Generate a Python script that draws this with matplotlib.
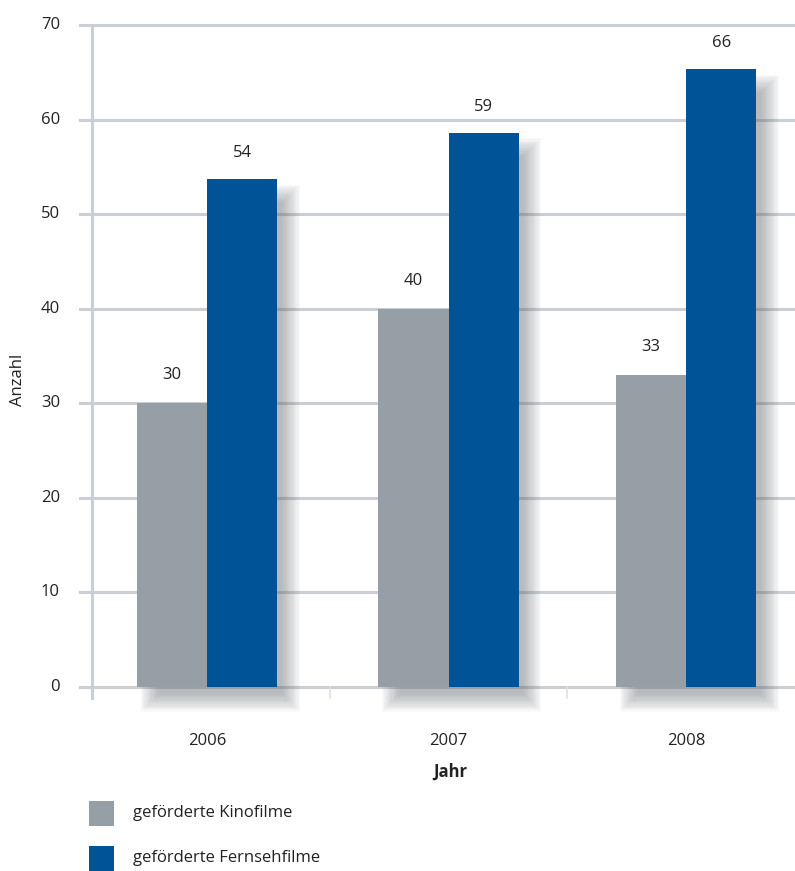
import matplotlib
matplotlib.use("Agg")
import matplotlib.pyplot as plt
from matplotlib.patches import Rectangle, Polygon
from matplotlib.lines import Line2D
import numpy as np

years = ["2006", "2007", "2008"]
kino = [30, 40, 33]
fernseh = [53.7, 58.6, 65.3]
kino_labels = ["30", "40", "33"]
fernseh_labels = ["54", "59", "66"]
series_names = ["geförderte Kinofilme", "geförderte Fernsehfilme"]
yticks = [0, 10, 20, 30, 40, 50, 60, 70]

GRAY = "#969ea6"
BLUE = "#005397"
GRID = "#c9cfd5"
TXT = "#222222"
FONT = ["Open Sans", "DejaVu Sans"]
plt.rcParams["font.family"] = FONT

W, H = 795, 871
fig = plt.figure(figsize=(W / 100, H / 100), dpi=100)
left, right, top, bottom = 92, 795, 25, 687
ax = fig.add_axes([left / W, 1 - bottom / H, (right - left) / W, (bottom - top) / H])
cat_px = 237.7
xmax = -0.5 + (right - left) / cat_px
ax.set_xlim(-0.5, xmax)
ax.set_ylim(0, 70)
for s in ax.spines.values():
    s.set_visible(False)

px_x = 1 / cat_px
px_y = 70 / (bottom - top)

# gridlines
for t in yticks:
    ax.add_line(Line2D([-0.5 - 12 * px_x, xmax], [t, t], color=GRID, lw=2.2, zorder=1, clip_on=False))
# y axis line
ax.add_line(Line2D([-0.5, -0.5], [-11 * px_y, 70], color=GRID, lw=2.2, zorder=1, clip_on=False))
# category separator ticks
for xs in [0.5, 1.5]:
    ax.add_line(Line2D([xs, xs], [-11 * px_y, 0], color="#dde1e5", lw=1.2, zorder=1, clip_on=False))

x = np.arange(len(years))
bw = 0.295
off = 0.1475
shift = np.array([-0.015, 0.0, 0.0])


def group_shadow(x0, xm, x1, h1, h2):
    n = 16
    dx = 13 * px_x
    dy = -15 * px_y
    for k in range(n):
        g = (n / 2 - k) * 1.2
        gx, gy = g * px_x, g * px_y
        a, b, c = x0 + dx - gx, x1 + dx + gx, dy - gy
        t1, t2 = h1 + dy + gy, h2 + dy + gy
        if h2 >= h1:
            m = xm + dx - gx
            pts = [(a, c), (b, c), (b, t2), (m, t2), (m, t1), (a, t1)]
        else:
            m = xm + dx + gx
            pts = [(a, c), (b, c), (b, t2), (m, t2), (m, t1), (a, t1)]
        ax.add_patch(Polygon(pts, closed=True, facecolor="#6a6f76", edgecolor="none",
                             alpha=0.037, zorder=2, clip_on=False))


for i in range(len(years)):
    xc = x[i] + shift[i]
    group_shadow(xc - off - bw / 2, xc, xc + off + bw / 2, kino[i], fernseh[i])

ax.bar(x + shift - off, kino, width=bw, color=GRAY, zorder=3)
ax.bar(x + shift + off, fernseh, width=bw, color=BLUE, zorder=3)

for i in range(len(years)):
    xc = x[i] + shift[i]
    ax.text(xc - off, kino[i] + 20 * px_y, kino_labels[i], ha="center", va="bottom",
            fontsize=12, color=TXT, zorder=4)
    ax.text(xc + off, fernseh[i] + 18 * px_y, fernseh_labels[i], ha="center", va="bottom",
            fontsize=12, color=TXT, zorder=4)

ax.set_xticks([])
ax.set_yticks([])
for t in yticks:
    ax.text(-0.5 - 32 * px_x, t, str(t), ha="right", va="center", fontsize=12, color=TXT)
for i, yl in enumerate(years):
    ax.text(x[i] + shift[i], -54 * px_y, yl, ha="center", va="center", fontsize=12, color=TXT)

fig.text(18 / W, 1 - 380 / H, "Anzahl", rotation=90, ha="center", va="center", fontsize=12, color=TXT)
fig.text(450 / W, 1 - 772 / H, "Jahr", ha="center", va="center", fontsize=12, fontweight="bold", color=TXT)

# legend
for j, (name, col) in enumerate(zip(series_names, [GRAY, BLUE])):
    yc = 813 + j * 45
    fig.patches.append(Rectangle((89 / W, 1 - (yc + 12.5) / H), 25 / W, 25 / H,
                                 facecolor=col, edgecolor="none", transform=fig.transFigure))
    fig.text(133 / W, 1 - yc / H, name, ha="left", va="center", fontsize=12, color=TXT)

fig.savefig("out.png", dpi=100)
